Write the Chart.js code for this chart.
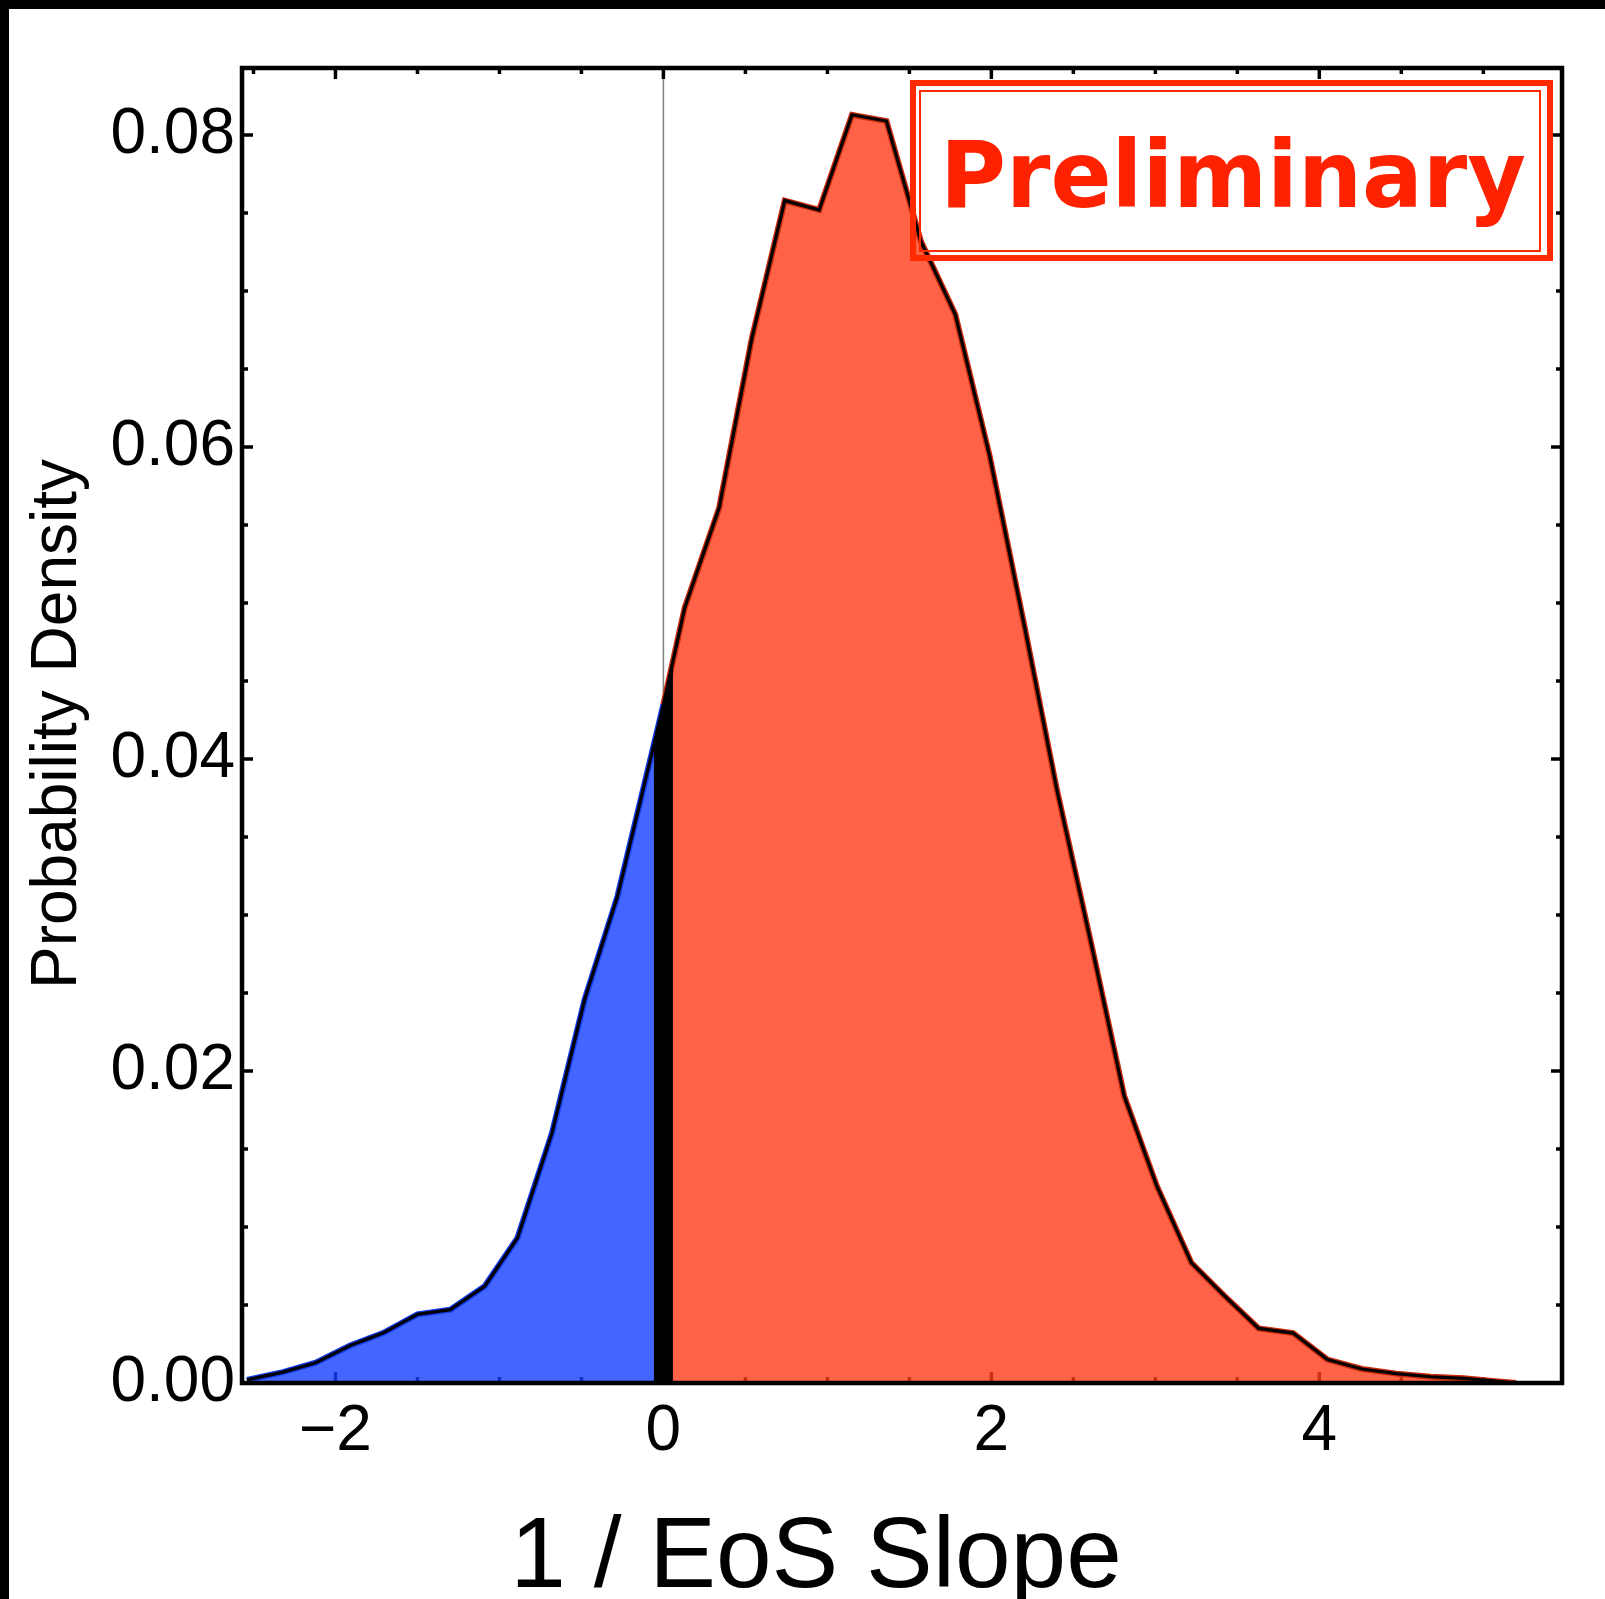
<!DOCTYPE html>
<html>
<head>
<meta charset="utf-8">
<script src="https://cdn.jsdelivr.net/npm/chart.js@4.4.0/dist/chart.umd.min.js"></script>
<style>
  html, body { margin: 0; padding: 0; background: #fff; }
  #wrap { position: relative; width: 1605px; height: 1599px; }
</style>
</head>
<body>
<div id="wrap"><canvas id="chart" width="1605" height="1599"></canvas></div>
<script>
// ========================================
// DATA
// ========================================
const negX = [-2.54, -2.32, -2.12, -1.91, -1.71, -1.50, -1.30, -1.09, -0.89, -0.68, -0.48, -0.28, -0.07, 0];
const negY = [0.0002, 0.0007, 0.0013, 0.0024, 0.0032, 0.0044, 0.0047, 0.0062, 0.0093, 0.0160, 0.0246, 0.0312, 0.0404, 0.0435];

const posX = [0, 0.13, 0.34, 0.54, 0.74, 0.95, 1.15, 1.36, 1.57, 1.78, 1.99, 2.20, 2.40, 2.61, 2.81,
              3.01, 3.22, 3.42, 3.63, 3.84, 4.05, 4.26, 4.47, 4.68, 4.88, 5.09, 5.20];
const posY = [0.0435, 0.0497, 0.0561, 0.0670, 0.0758, 0.0752, 0.0813, 0.0809, 0.0732, 0.0685, 0.0594, 0.0486, 0.0380, 0.0281, 0.0184,
              0.0126, 0.0077, 0.0056, 0.0035, 0.0032, 0.0015, 0.0009, 0.0006, 0.0004, 0.0003, 0.0001, 0.0000];

const xTicks = [-2, 0, 2, 4];
const yTicks = [0, 0.02, 0.04, 0.06, 0.08];
const splitX = 0;
const splitTop = 0.048;   // clipped to the curve when drawn

const xRange = [-2.57, 5.48];
const yRange = [0, 0.0843];

const toPoints = (xs, ys) => xs.map((x, i) => ({ x: x, y: ys[i] }));
const outline = toPoints(negX, negY).concat(toPoints(posX, posY).slice(1));

// ========================================
// FRAME, TICKS, LABELS, STAMP
// ========================================
const framePlugin = {
    id: 'frame',
    beforeDatasetsDraw(chart) {
        const { ctx, chartArea: a, scales: { x, y } } = chart;
        ctx.save();

        // thin axis line at x = 0
        const x0 = x.getPixelForValue(0);
        ctx.strokeStyle = '#808080';
        ctx.lineWidth = 1.5;
        ctx.beginPath();
        ctx.moveTo(x0, a.top);
        ctx.lineTo(x0, a.bottom);
        ctx.stroke();

        // inward ticks on all four sides
        ctx.strokeStyle = '#000';
        ctx.lineWidth = 3.5;
        ctx.beginPath();
        for (let v = -2.5; v <= 5.01; v += 0.5) {
            const px = x.getPixelForValue(v);
            const len = Math.abs(v % 2) < 1e-6 ? 11 : 6;
            ctx.moveTo(px, a.bottom); ctx.lineTo(px, a.bottom - len);
            ctx.moveTo(px, a.top); ctx.lineTo(px, a.top + len);
        }
        for (let k = 1; k <= 16; k++) {
            const py = y.getPixelForValue(k * 0.005);
            const len = k % 4 === 0 ? 11 : 6;
            ctx.moveTo(a.left, py); ctx.lineTo(a.left + len, py);
            ctx.moveTo(a.right, py); ctx.lineTo(a.right - len, py);
        }
        ctx.stroke();
        ctx.restore();
    },
    // keep the black split bar under the curve
    beforeDatasetDraw(chart, args) {
        if (args.index !== 1) return;
        const { ctx, chartArea: a } = chart;
        const pts = chart.getDatasetMeta(0).data;
        ctx.save();
        ctx.beginPath();
        ctx.moveTo(pts[0].x, a.bottom);
        pts.forEach(p => ctx.lineTo(p.x, p.y));
        ctx.lineTo(pts[pts.length - 1].x, a.bottom);
        ctx.closePath();
        ctx.clip();
    },
    afterDatasetDraw(chart, args) {
        if (args.index !== 1) return;
        chart.ctx.restore();
    },
    afterDatasetsDraw(chart) {
        const { ctx, chartArea: a } = chart;
        ctx.save();
        ctx.strokeStyle = '#000';
        ctx.lineWidth = 4.5;
        ctx.strokeRect(a.left, a.top, a.right - a.left, a.bottom - a.top);

        // "Preliminary" stamp
        ctx.strokeStyle = '#ff2a00';
        ctx.lineWidth = 6;
        ctx.strokeRect(913, 83, 637, 175);
        ctx.lineWidth = 2;
        ctx.strokeRect(920, 91, 620, 160);
        ctx.fillStyle = '#ff2200';
        ctx.font = 'bold 93px "DejaVu Sans"';
        ctx.textBaseline = 'alphabetic';
        const w = ctx.measureText('Preliminary').width;
        ctx.translate(940, 207);
        ctx.scale(586 / w, 1);
        ctx.fillText('Preliminary', 0, 0);
        ctx.restore();
    },
    afterDraw(chart) {
        const { ctx } = chart;
        ctx.save();
        ctx.fillStyle = '#000';

        // axis titles
        ctx.textAlign = 'center';
        ctx.textBaseline = 'alphabetic';
        ctx.font = '100px "Liberation Sans"';
        ctx.fillText('1 / EoS Slope', 816, 1587);

        ctx.translate(76, 724);
        ctx.rotate(-Math.PI / 2);
        ctx.font = '64px "Liberation Sans"';
        ctx.fillText('Probability Density', 0, 0);
        ctx.restore();

        // black edge of the page
        ctx.fillStyle = '#000';
        ctx.fillRect(0, 0, 1605, 9);
        ctx.fillRect(0, 0, 9, 1599);
    }
};

// ========================================
// CHART
// ========================================
const ctx = document.getElementById('chart');

new Chart(ctx, {
    type: 'line',
    data: {
        datasets: [
            {
                label: 'outline',
                data: outline,
                borderColor: '#000',
                borderWidth: 3.2,
                pointRadius: 0,
                fill: false,
                tension: 0,
                order: 0
            },
            {
                label: 'split',
                data: [{ x: splitX, y: 0 }, { x: splitX, y: splitTop }],
                borderColor: '#000',
                borderWidth: 19,
                borderCapStyle: 'butt',
                pointRadius: 0,
                fill: false,
                order: 1
            },
            {
                label: 'negative',
                data: toPoints(negX, negY),
                borderColor: '#1238e8',
                borderWidth: 6,
                backgroundColor: 'rgba(19, 64, 255, 0.8)',
                fill: 'origin',
                pointRadius: 0,
                tension: 0,
                order: 2
            },
            {
                label: 'positive',
                data: toPoints(posX, posY),
                borderColor: '#c92a0c',
                borderWidth: 6,
                backgroundColor: 'rgba(255, 60, 25, 0.8)',
                fill: 'origin',
                pointRadius: 0,
                tension: 0,
                order: 3
            }
        ]
    },
    options: {
        responsive: false,
        animation: false,
        devicePixelRatio: 1,
        layout: { padding: { left: 0, top: 68, right: 43, bottom: 0 } },
        plugins: {
            legend: { display: false },
            tooltip: { enabled: false }
        },
        scales: {
            x: {
                type: 'linear',
                min: xRange[0],
                max: xRange[1],
                grid: { display: false, drawTicks: false },
                border: { display: false },
                afterBuildTicks: (s) => { s.ticks = xTicks.map(v => ({ value: v })); },
                afterFit: (s) => { s.height = 216; },
                ticks: {
                    color: '#000',
                    padding: 11,
                    maxRotation: 0,
                    font: { family: 'Liberation Sans', size: 64 },
                    callback: (v) => (v < 0 ? '\u2212' : '') + Math.abs(v)
                }
            },
            y: {
                type: 'linear',
                min: yRange[0],
                max: yRange[1],
                grid: { display: false, drawTicks: false },
                border: { display: false },
                afterBuildTicks: (s) => { s.ticks = yTicks.map(v => ({ value: v })); },
                afterFit: (s) => { s.width = 242; },
                ticks: {
                    color: '#000',
                    padding: 7,
                    font: { family: 'Liberation Sans', size: 64 },
                    callback: (v) => v.toFixed(2)
                }
            }
        }
    },
    plugins: [framePlugin]
});
</script>
</body>
</html>
